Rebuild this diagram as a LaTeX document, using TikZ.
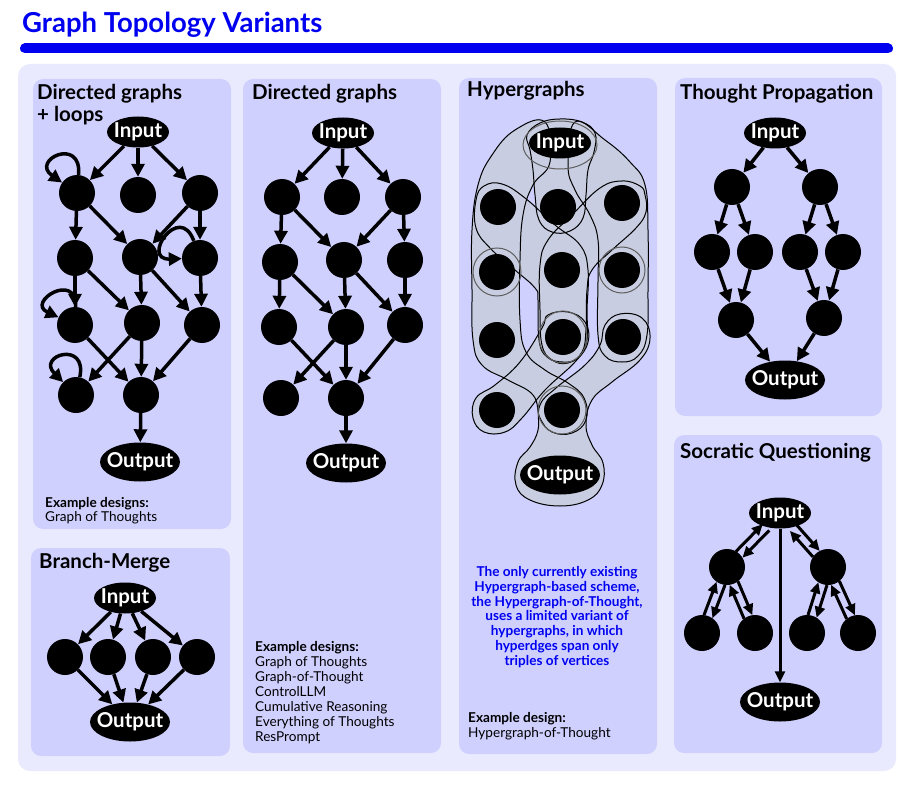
\documentclass[tikz,border=0pt]{standalone}
\usepackage{fontspec}
\setmainfont{Lato}
\usetikzlibrary{arrows.meta,shapes.geometric,calc}
\definecolor{bgouter}{RGB}{234,234,255}
\definecolor{panelc}{RGB}{208,208,255}
\definecolor{ttlblue}{RGB}{0,0,240}
\definecolor{hyperc}{RGB}{200,205,225}
\definecolor{ringc}{RGB}{95,95,95}
\newcommand\twoway[4]{%
  \draw[sarr, shorten <=#3, shorten >=#4] ($(#1)!4.5pt!90:(#2)$) -- ($(#2)!4.5pt!-90:(#1)$);
  \draw[sarr, shorten <=#4, shorten >=#3] ($(#2)!4.5pt!90:(#1)$) -- ($(#1)!4.5pt!-90:(#2)$);
}
\newcommand\hyshapes[2]{%
  % Input - b1 capsule
  \path[#1] plot[smooth cycle, tension=0.7] coordinates {(530,150) (527,135) (540,123) (560,119) (582,122) (595,133) (594,152) (588,170) (586,195) (583,218) (570,231) (552,232) (539,220) (535,195) (533,170)};
  % left band
  \path[#1] plot[smooth cycle, tension=0.7] coordinates {(545,122) (515,130) (492,155) (478,185) (472,230) (472,290) (473,340) (482,365) (508,380) (533,395) (540,418) (552,432) (572,433) (586,420) (584,398) (568,383) (545,370) (526,352) (520,320) (520,260) (523,215) (533,185) (550,162)};
  % right band
  \path[#1] plot[smooth cycle, tension=0.7] coordinates {(575,122) (605,140) (630,162) (645,185) (648,230) (648,290) (647,335) (638,356) (622,362) (605,356) (598,335) (598,280) (598,240) (590,215) (575,190) (568,165)};
  % a1 - b2 - b3
  \path[#1] plot[smooth cycle, tension=0.7] coordinates {(476,200) (484,186) (502,184) (525,198) (555,225) (580,245) (588,270) (587,310) (587,340) (578,358) (563,362) (547,357) (539,340) (538,300) (535,288) (515,270) (490,248) (476,228)};
  % c1 - b2 - b3
  \path[#1] plot[smooth cycle, tension=0.7] coordinates {(645,195) (640,186) (622,181) (600,188) (572,215) (548,240) (540,265) (540,310) (542,345) (552,360) (568,363) (582,352) (586,330) (587,290) (592,270) (612,250) (636,228) (646,212)};
  % b3 - a4
  \path[#1] plot[smooth cycle, tension=0.7] coordinates {(542,328) (548,315) (568,312) (585,322) (588,342) (575,362) (545,390) (522,418) (505,432) (484,432) (473,418) (476,398) (495,385) (520,362)};
  % c3 - b4 - Output
  \path[#1] plot[smooth cycle, tension=0.7] coordinates {(605,325) (620,314) (642,318) (650,338) (640,360) (612,382) (592,400) (586,425) (592,445) (603,463) (602,485) (588,500) (560,506) (530,500) (516,485) (518,462) (530,447) (538,430) (540,405) (556,388) (585,365) (600,345)};
  % rings
  \path[#2] (560,145) ellipse [x radius=37, y radius=24];
  \path[#2] (497,272) circle [radius=24];
  \path[#2] (622,270) circle [radius=23];
  \path[#2] (563,337) ellipse [x radius=24, y radius=26];
  \path[#2] (562,410) circle [radius=24];
}
\begin{document}
\begin{tikzpicture}[x=1pt,y=-1pt,
  panelbox/.style={fill=panelc, rounded corners=10pt},
  vtx/.style={circle, fill=black, minimum size=36pt, inner sep=0pt},
  inp/.style={ellipse, fill=black, text=white, font=\fontsize{20.5}{23}\selectfont\bfseries, minimum width=62pt, minimum height=31pt, inner xsep=-5pt, inner ysep=0pt},
  outp/.style={ellipse, fill=black, text=white, font=\fontsize{20.5}{23}\selectfont\bfseries, minimum width=80pt, minimum height=39pt, inner xsep=-5pt, inner ysep=0pt},
  arr/.style={line width=3.5pt, -{Triangle[length=13pt,width=13pt]}},
  sarr/.style={line width=3pt, -{Triangle[length=11pt,width=10pt]}},
  ptitle/.style={anchor=base west, font=\fontsize{20.5}{23}\selectfont\bfseries, inner sep=0pt},
  small/.style={anchor=base west, font=\fontsize{13.6}{15}\selectfont, inner sep=0pt},
  smallb/.style={anchor=base west, font=\fontsize{13.6}{15}\selectfont\bfseries, inner sep=0pt},
]
\useasboundingbox (0,0) rectangle (920,786);
\fill[white] (0,0) rectangle (920,786);

% title
\node[anchor=base west, inner sep=0pt, text=ttlblue, font=\fontsize{27.5}{31}\selectfont\bfseries] (title) at (22,33) {Graph Topology Variants};
\draw[ttlblue, line width=10pt, line cap=round] (25,48.5) -- (888,48.5);

% backgrounds
\fill[bgouter, rounded corners=12pt] (18,64) rectangle (896,771);
\fill[panelbox] (33,79) rectangle (231,529);
\fill[panelbox] (31,548) rectangle (230,756);
\fill[panelbox] (243,79) rectangle (441,753);
\fill[panelbox] (459,78) rectangle (657,754);
\fill[panelbox] (675,78) rectangle (882,416);
\fill[panelbox] (674,435) rectangle (882,753);

% panel titles
\node[ptitle] (t1a) at (37,100) {Directed graphs};
\node[ptitle] (t1b) at (37,122) {+ loops};
\node[ptitle] (t2) at (39,568) {Branch-Merge};
\node[ptitle] (t3) at (252,100) {Directed graphs};
\node[ptitle] (t4) at (467,97) {Hypergraphs};
\node[ptitle] (t5) at (680,100) {Thought Propagation};
\node[ptitle] (t6) at (680,458) {Socratic Questioning};

% ---------- panel 1: directed graphs + loops ----------
\node[inp] (p1in) at (138,132) {Input};
\node[vtx] (p1a1) at (77,193) {};
\node[vtx] (p1b1) at (138,195) {};
\node[vtx] (p1c1) at (200,193) {};
\node[vtx] (p1a2) at (75,258) {};
\node[vtx] (p1b2) at (140,257) {};
\node[vtx] (p1c2) at (200,258) {};
\node[vtx] (p1a3) at (75,325) {};
\node[vtx] (p1b3) at (142,323) {};
\node[vtx] (p1c3) at (202,325) {};
\node[vtx] (p1a4) at (76,395) {};
\node[vtx] (p1b4) at (141,395) {};
\node[outp] (p1out) at (140,462) {Output};
\draw[arr] (p1in) -- (p1a1);
\draw[arr] (p1in) -- (p1b1);
\draw[arr] (p1in) -- (p1c1);
\draw[arr] (p1a1) -- (p1a2);
\draw[arr] (p1a1) -- (p1b2);
\draw[arr] (p1c1) -- (p1b2);
\draw[arr] (p1c1) -- (p1c2);
\draw[arr] (p1a2) -- (p1a3);
\draw[arr] (p1a2) -- (p1b3);
\draw[arr] (p1b2) -- (p1b3);
\draw[arr] (p1b2) -- (p1c3);
\draw[arr] (p1c2) -- (p1c3);
\draw[arr] (p1a3) -- (p1b4);
\draw[arr] (p1b3) -- (p1a4);
\draw[arr] (p1b3) -- (p1b4);
\draw[arr] (p1c3) -- (p1b4);
\draw[arr] (p1b4) -- (p1out);
\draw[arr] (p1a1) to[out=85,in=145,looseness=5.5] (p1a1);
\draw[arr] (p1c2) to[out=110,in=182,looseness=5] (p1c2);
\draw[arr] (p1a3) to[out=88,in=155,looseness=4.6] (p1a3);
\draw[arr] (p1a4) to[out=78,in=135,looseness=5.6] (p1a4);
\node[smallb] (e1h) at (45,507) {Example designs:};
\node[small] (e1a) at (45,521) {Graph of Thoughts};

% ---------- panel 2: branch-merge ----------
\node[inp] (bmin) at (125,598) {Input};
\node[vtx] (bm1) at (65,657) {};
\node[vtx] (bm2) at (108,657) {};
\node[vtx] (bm3) at (153,657) {};
\node[vtx] (bm4) at (197,657) {};
\node[outp] (bmout) at (130,722) {Output};
\foreach \k in {1,2,3,4} {
  \draw[arr] (bmin) -- (bm\k);
  \draw[arr] (bm\k) -- (bmout);
}

% ---------- panel 3: directed graphs ----------
\node[inp] (p3in) at (343,133) {Input};
\node[vtx] (p3a1) at (282,197) {};
\node[vtx] (p3b1) at (342,197) {};
\node[vtx] (p3c1) at (403,197) {};
\node[vtx] (p3a2) at (280,262) {};
\node[vtx] (p3b2) at (344,260) {};
\node[vtx] (p3c2) at (405,260) {};
\node[vtx] (p3a3) at (279,327) {};
\node[vtx] (p3b3) at (346,327) {};
\node[vtx] (p3c3) at (405,325) {};
\node[vtx] (p3a4) at (281,398) {};
\node[vtx] (p3b4) at (346,398) {};
\node[outp] (p3out) at (346,463) {Output};
\draw[arr] (p3in) -- (p3a1);
\draw[arr] (p3in) -- (p3b1);
\draw[arr] (p3in) -- (p3c1);
\draw[arr] (p3a1) -- (p3a2);
\draw[arr] (p3a1) -- (p3b2);
\draw[arr] (p3c1) -- (p3b2);
\draw[arr] (p3c1) -- (p3c2);
\draw[arr] (p3a2) -- (p3a3);
\draw[arr] (p3a2) -- (p3b3);
\draw[arr] (p3b2) -- (p3b3);
\draw[arr] (p3b2) -- (p3c3);
\draw[arr] (p3c2) -- (p3c3);
\draw[arr] (p3a3) -- (p3b4);
\draw[arr] (p3b3) -- (p3a4);
\draw[arr] (p3b3) -- (p3b4);
\draw[arr] (p3c3) -- (p3b4);
\draw[arr] (p3b4) -- (p3out);
\node[smallb] (e3h) at (255,651) {Example designs:};
\node[small] (e3a) at (255,666) {Graph of Thoughts};
\node[small] (e3b) at (255,681) {Graph-of-Thought};
\node[small] (e3c) at (255,696) {ControlLLM};
\node[small] (e3d) at (255,711) {Cumulative Reasoning};
\node[small] (e3e) at (255,726) {Everything of Thoughts};
\node[small] (e3f) at (255,741) {ResPrompt};

% ---------- panel 4: hypergraphs ----------
\hyshapes{fill=hyperc}{fill=hyperc}
\hyshapes{draw=black, line width=1pt}{draw=ringc, line width=1pt}
\node[inp] (hgin) at (560,143) {Input};
\node[vtx] (hga1) at (498,207) {};
\node[vtx] (hgb1) at (558,207) {};
\node[vtx] (hgc1) at (622,203) {};
\node[vtx] (hga2) at (497,272) {};
\node[vtx] (hgb2) at (562,270) {};
\node[vtx] (hgc2) at (622,270) {};
\node[vtx] (hga3) at (497,340) {};
\node[vtx] (hgb3) at (563,337) {};
\node[vtx] (hgc3) at (623,337) {};
\node[vtx] (hga4) at (497,410) {};
\node[vtx] (hgb4) at (562,410) {};
\node[outp] (hgout) at (560,475) {Output};
\node[align=center, text=ttlblue, font=\fontsize{13.6}{14.8}\selectfont\bfseries, inner sep=0pt] (note) at (557,617) {The only currently existing\\Hypergraph-based scheme,\\the Hypergraph-of-Thought,\\uses a limited variant of\\hypergraphs, in which\\hyperdges span only\\triples of vertices};
\node[smallb] (e4h) at (468,722) {Example design:};
\node[small] (e4a) at (468,737) {Hypergraph-of-Thought};

% ---------- panel 5: thought propagation ----------
\node[inp] (tpin) at (775,133) {Input};
\node[vtx] (tpa) at (732,187) {};
\node[vtx] (tpb) at (820,187) {};
\node[vtx] (tp1) at (712,252) {};
\node[vtx] (tp2) at (755,252) {};
\node[vtx] (tp3) at (800,252) {};
\node[vtx] (tp4) at (843,252) {};
\node[vtx] (tpx) at (736,320) {};
\node[vtx] (tpy) at (824,318) {};
\node[outp] (tpout) at (785,380) {Output};
\draw[arr] (tpin) -- (tpa);
\draw[arr] (tpin) -- (tpb);
\draw[arr] (tpa) -- (tp1);
\draw[arr] (tpa) -- (tp2);
\draw[arr] (tpb) -- (tp3);
\draw[arr] (tpb) -- (tp4);
\draw[arr] (tp1) -- (tpx);
\draw[arr] (tp2) -- (tpx);
\draw[arr] (tp3) -- (tpy);
\draw[arr] (tp4) -- (tpy);
\draw[arr] (tpx) -- (tpout);
\draw[arr] (tpy) -- (tpout);

% ---------- panel 6: socratic questioning ----------
\node[inp] (sqin) at (780,513) {Input};
\node[vtx] (sqm1) at (727,567) {};
\node[vtx] (sqm2) at (828,567) {};
\node[vtx] (sq1) at (702,633) {};
\node[vtx] (sq2) at (755,633) {};
\node[vtx] (sq3) at (807,633) {};
\node[vtx] (sq4) at (858,633) {};
\node[outp] (sqout) at (780,702) {Output};
\twoway{sqin}{sqm1}{20pt}{17.5pt}
\twoway{sqin}{sqm2}{20pt}{17.5pt}
\twoway{sqm1}{sq1}{17.5pt}{17.5pt}
\twoway{sqm1}{sq2}{17.5pt}{17.5pt}
\twoway{sqm2}{sq3}{17.5pt}{17.5pt}
\twoway{sqm2}{sq4}{17.5pt}{17.5pt}
\draw[sarr] (sqin) -- (sqout);
\end{tikzpicture}
\end{document}
